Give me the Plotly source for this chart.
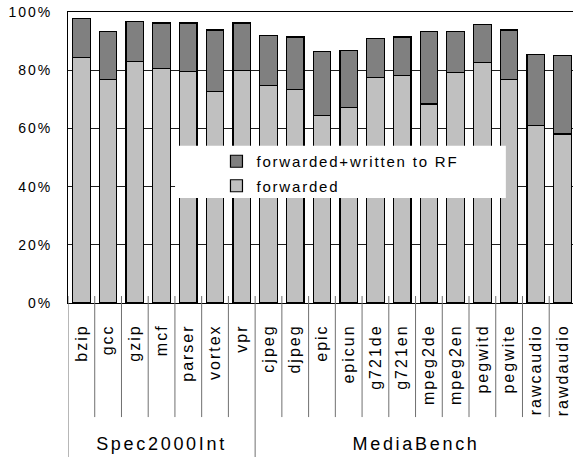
import plotly.graph_objects as go

benchmarks = ["bzip", "gcc", "gzip", "mcf", "parser", "vortex", "vpr",
              "cjpeg", "djpeg", "epic", "epicun", "g721de", "g721en", "mpeg2de",
              "mpeg2en", "pegwitd", "pegwite", "rawcaudio", "rawdaudio"]
forwarded = [84.5, 76.7, 83.0, 80.5, 79.6, 72.7, 79.9,
             74.7, 73.3, 64.4, 67.3, 77.6, 78.1, 68.4,
             79.1, 82.6, 76.7, 61.0, 58.1]
fwd_written_rf = [13.2, 16.6, 13.7, 15.7, 16.6, 21.1, 16.3,
                  17.2, 18.1, 22.0, 19.6, 13.2, 13.3, 24.9,
                  14.2, 13.1, 17.1, 24.5, 26.9]
groups = ["Spec2000Int", "MediaBench"]
group_centers = [3, 12.5]
group_bounds = [-0.5, 6.5]
y_ticks = [0, 20, 40, 60, 80, 100]

FONT = "Liberation Sans, Arial, sans-serif"

fig = go.Figure()
fig.add_trace(go.Bar(x=benchmarks, y=forwarded, name="forwarded",
                     legendgroup="a", legendrank=2,
                     marker=dict(color="#c0c0c0", line=dict(color="#000000", width=1.2))))
fig.add_trace(go.Bar(x=benchmarks, y=fwd_written_rf, name="forwarded+written to RF",
                     legendgroup="b", legendrank=1,
                     marker=dict(color="#808080", line=dict(color="#000000", width=1.2))))

shapes = []
# legend white background
shapes.append(dict(type="rect", xref="paper", yref="paper", x0=0.212, x1=0.867,
                   y0=0.361, y1=0.540, fillcolor="white", line=dict(width=0), layer="above"))
for i in range(len(benchmarks) - 1):
    b = i + 0.5
    if b in group_bounds:
        continue
    shapes.append(dict(type="line", xref="x", yref="paper", x0=b, x1=b, y0=-0.392, y1=0.024,
                       line=dict(color="#707070", width=1), layer="above"))
for b in group_bounds:
    shapes.append(dict(type="line", xref="x", yref="paper", x0=b, x1=b, y0=-0.6, y1=0.024,
                       line=dict(color="#707070", width=1), layer="above"))

annotations = []
for g, c in zip(groups, group_centers):
    annotations.append(dict(x=c, y=-0.484, xref="x", yref="paper", text=g, showarrow=False,
                            yanchor="middle", xanchor="center",
                            font=dict(family=FONT, size=18, color="#000000")))

fig.update_layout(
    width=573, height=457,
    margin=dict(l=68, r=0, t=11.5, b=154, pad=0),
    paper_bgcolor="white", plot_bgcolor="white",
    barmode="stack", bargap=0.345,
    showlegend=True,
    legend=dict(x=0.294, y=0.543, xanchor="left", yanchor="top",
                bgcolor="rgba(0,0,0,0)", traceorder="grouped", tracegroupgap=2,
                font=dict(family=FONT, size=15, color="#000000")),
    shapes=shapes, annotations=annotations,
    font=dict(family=FONT, color="#000000"),
)
fig.update_xaxes(range=[-0.5, 18.39], showline=True, linecolor="#000000", linewidth=1,
                 mirror=True, ticks="", tickangle=-90, ticklabelstandoff=14,
                 tickfont=dict(family=FONT, size=16, color="#000000"), showgrid=False)
fig.update_yaxes(range=[0, 100], tickvals=y_ticks, ticktext=[f"{v}%" for v in y_ticks],
                 showline=True, linecolor="#000000", linewidth=1,
                 showgrid=True, gridcolor="#202020", gridwidth=1, zeroline=False,
                 ticks="", ticklabelstandoff=12,
                 tickfont=dict(family=FONT, size=14, color="#000000"))

post = """
var gd = document.getElementById('{plot_id}');
function sp(sel, v){ gd.querySelectorAll(sel).forEach(function(t){ t.style.letterSpacing = v; }); }
sp('g.xtick text', '2px');
sp('g.ytick text', '2px');
sp('text.legendtext', '1.8px');
sp('.annotation-text', '2.7px');
gd.querySelectorAll('.legend [clip-path]').forEach(function(e){ e.removeAttribute('clip-path'); });
"""
fig.write_html("out.html", post_script=post)
